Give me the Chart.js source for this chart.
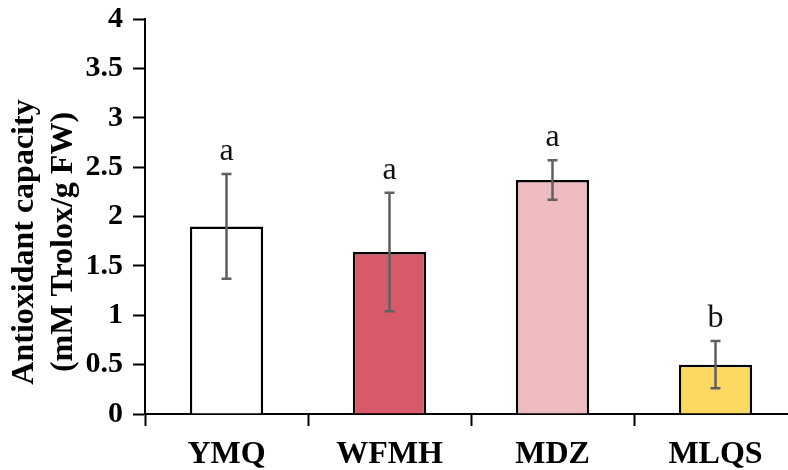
<!DOCTYPE html>
<html>
<head>
<meta charset="utf-8">
<script src="https://cdn.jsdelivr.net/npm/chart.js@4/dist/chart.umd.min.js"></script>
<style>
  html, body { margin: 0; padding: 0; background: #fff; overflow: hidden; }
  #wrap { width: 800px; height: 470px; }
</style>
</head>
<body>
<div id="wrap"><canvas id="c" width="800" height="470"></canvas></div>
<script>
// Cultivars and their antioxidant capacity (mM Trolox/g FW)
const categories = ['YMQ', 'WFMH', 'MDZ', 'MLQS'];
const capacity = [1.90, 1.64, 2.37, 0.50];
const stdError = [0.53, 0.60, 0.20, 0.24];
const groupLetters = ['a', 'a', 'a', 'b'];
const barColors = ['#ffffff', '#d65a69', '#eebbc0', '#fdd962'];
const yTitleLines = ['Antioxidant capacity', '(mM Trolox/g FW)'];

const SERIF = '"Liberation Serif", "Times New Roman", serif';

// Error bars and significance letters, placed from the data via the scales
const errorBars = {
  id: 'errorBars',
  afterDatasetsDraw(chart) {
    const { ctx, scales: { y } } = chart;
    const meta = chart.getDatasetMeta(0);
    ctx.save();
    meta.data.forEach((bar, i) => {
      const x = bar.x;
      const top = y.getPixelForValue(capacity[i] + stdError[i]);
      const bot = y.getPixelForValue(capacity[i] - stdError[i]);
      ctx.strokeStyle = '#606060';
      ctx.lineWidth = 2.5;
      ctx.beginPath();
      ctx.moveTo(x, top); ctx.lineTo(x, bot);
      ctx.moveTo(x - 5, top); ctx.lineTo(x + 5, top);
      ctx.moveTo(x - 5, bot); ctx.lineTo(x + 5, bot);
      ctx.stroke();
      ctx.fillStyle = '#111';
      ctx.font = '32px ' + SERIF;
      ctx.textAlign = 'center';
      ctx.textBaseline = 'alphabetic';
      ctx.fillText(groupLetters[i], x, top - 14);
    });
    ctx.restore();
  }
};

// Two-line rotated y-axis title
const yTitle = {
  id: 'yTitle',
  afterDraw(chart) {
    const { ctx } = chart;
    ctx.save();
    ctx.font = 'bold 32px ' + SERIF;
    ctx.fillStyle = '#000';
    ctx.textAlign = 'center';
    ctx.textBaseline = 'middle';
    const xs = [25, 64];
    yTitleLines.forEach((line, i) => {
      ctx.save();
      ctx.translate(xs[i], 242);
      ctx.rotate(-Math.PI / 2);
      ctx.fillText(line, 0, 0);
      ctx.restore();
    });
    ctx.restore();
  }
};

new Chart(document.getElementById('c'), {
  type: 'bar',
  data: {
    labels: categories,
    datasets: [{
      data: capacity,
      backgroundColor: barColors,
      borderColor: '#000',
      borderWidth: 2.5,
      barPercentage: 0.45,
      categoryPercentage: 1.0
    }]
  },
  options: {
    responsive: false,
    animation: false,
    layout: { padding: { left: 0, top: 19, right: 3, bottom: 0 } },
    plugins: { legend: { display: false }, tooltip: { enabled: false } },
    scales: {
      x: {
        afterFit(scale) { scale.height = 56; scale.paddingLeft = 0; scale.paddingRight = 0; },
        grid: { drawOnChartArea: false, offset: true, tickLength: 12, tickWidth: 2, tickColor: '#000' },
        border: { display: true, color: '#000', width: 2 },
        ticks: { color: '#000', padding: 10, font: { family: SERIF, size: 32, weight: 'bold' } }
      },
      y: {
        min: 0, max: 4,
        afterFit(scale) { scale.width = 145; scale.paddingTop = 0; scale.paddingBottom = 0; },
        grid: { drawOnChartArea: false, tickLength: 12, tickWidth: 2, tickColor: '#000' },
        border: { display: true, color: '#000', width: 2 },
        ticks: {
          stepSize: 0.5, color: '#000', padding: 10,
          font: { family: SERIF, size: 30, weight: 'bold' },
          callback: (v) => String(v)
        }
      }
    }
  },
  plugins: [errorBars, yTitle]
});
</script>
</body>
</html>
